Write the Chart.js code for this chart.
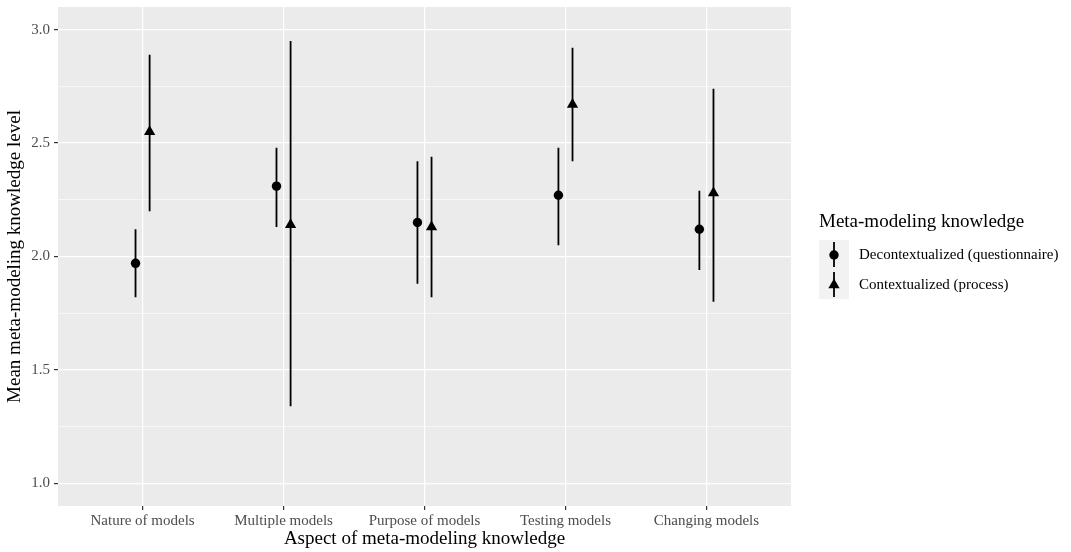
<!DOCTYPE html>
<html>
<head>
<meta charset="utf-8">
<script src="https://cdn.jsdelivr.net/npm/chart.js@4/dist/chart.umd.min.js"></script>
<style>
  body { margin: 0; background: #fff; }
  #wrap { width: 1071px; height: 552px; }
</style>
</head>
<body>
<div id="wrap"><canvas id="plot"></canvas></div>
<script>
// data
const categories = ["Nature of models", "Multiple models", "Purpose of models", "Testing models", "Changing models"];
const decontMean = [1.97, 2.31, 2.15, 2.27, 2.12];
const decontLow  = [1.82, 2.13, 1.88, 2.05, 1.94];
const decontHigh = [2.12, 2.48, 2.42, 2.48, 2.29];
const contMean = [2.55, 2.14, 2.13, 2.67, 2.28];
const contLow  = [2.20, 1.34, 1.82, 2.42, 1.80];
const contHigh = [2.89, 2.95, 2.44, 2.92, 2.74];
const yTicks = [1, 1.25, 1.5, 1.75, 2, 2.25, 2.5, 2.75, 3];

const seriesNames = ["Decontextualized (questionnaire)", "Contextualized (process)"];
const legendTitle = "Meta-modeling knowledge";
const dodge = 0.05;
const serif = "'Liberation Serif', 'Times New Roman', serif";

// points and error bar segments (null breaks the line between bars)
function points(means, shift) {
	return means.map((m, i) => ({ x: i + 1 + shift, y: m }));
}
function bars(low, high, shift) {
	let out = [];
	low.forEach((lo, i) => {
		out.push({ x: i + 1 + shift, y: lo });
		out.push({ x: i + 1 + shift, y: high[i] });
		out.push({ x: i + 1 + shift, y: null });
	});
	return out;
}

const isMajor = v => Math.abs(v * 2 - Math.round(v * 2)) < 1e-6;

//grey panel behind the grid
const panelBg = {
	id: "panelBg",
	beforeDraw(chart) {
		const a = chart.chartArea, c = chart.ctx;
		c.save();
		c.fillStyle = "#EBEBEB";
		c.fillRect(a.left, a.top, a.right - a.left, a.bottom - a.top);
		c.restore();
	}
};

//ggplot style legend on the right
const sideLegend = {
	id: "sideLegend",
	afterDraw(chart) {
		const c = chart.ctx;
		const x0 = chart.chartArea.right + 28, top = 240;
		c.save();
		c.fillStyle = "#000";
		c.textBaseline = "middle";
		c.font = "19px " + serif;
		c.fillText(legendTitle, x0, 222);
		c.fillStyle = "#F2F2F2";
		c.fillRect(x0, top, 30, 59);
		const kx = x0 + 15;
		[0, 1].forEach(k => {
			const cy = top + 15 + k * 30;
			c.strokeStyle = "#000";
			c.lineWidth = 1.8;
			c.beginPath();
			c.moveTo(kx, cy - 13);
			c.lineTo(kx, cy + 12);
			c.stroke();
			c.fillStyle = "#000";
			c.beginPath();
			if (k == 0) {
				c.arc(kx, cy, 4.7, 0, Math.PI * 2);
			} else {
				const r = 6.5;
				c.moveTo(kx, cy - r);
				c.lineTo(kx + r * Math.sin(2 * Math.PI / 3), cy + r / 2);
				c.lineTo(kx - r * Math.sin(2 * Math.PI / 3), cy + r / 2);
				c.closePath();
			}
			c.fill();
			c.font = "15px " + serif;
			c.fillText(seriesNames[k], x0 + 40, cy);
		});
		c.restore();
	}
};

const ctx = document.getElementById("plot").getContext("2d");

new Chart(ctx, {
	type: "scatter",
	data: {
		datasets: [
			{ data: bars(decontLow, decontHigh, -dodge), showLine: true, spanGaps: false, pointRadius: 0, borderColor: "#000", borderWidth: 1.8, order: 2 },
			{ data: bars(contLow, contHigh, dodge), showLine: true, spanGaps: false, pointRadius: 0, borderColor: "#000", borderWidth: 1.8, order: 2 },
			{ label: seriesNames[0], data: points(decontMean, -dodge), pointStyle: "circle", pointRadius: 4.7, backgroundColor: "#000", borderWidth: 0, order: 1 },
			{ label: seriesNames[1], data: points(contMean, dodge), pointStyle: "triangle", pointRadius: 6.5, backgroundColor: "#000", borderWidth: 0, order: 1 }
		]
	},
	options: {
		responsive: true,
		maintainAspectRatio: false,
		animation: false,
		layout: { padding: { top: 7, right: 280, left: 0, bottom: 0 } },
		plugins: { legend: { display: false }, tooltip: { enabled: false } },
		scales: {
			x: {
				type: "linear",
				min: 0.4,
				max: 5.6,
				afterBuildTicks: s => { s.ticks = categories.map((c, i) => ({ value: i + 1 })); },
				afterFit: s => { s.height = 46; },
				border: { display: false },
				grid: { color: "#fff", lineWidth: 1.2, tickColor: "#333", tickLength: 4, drawTicks: true },
				ticks: {
					autoSkip: false, maxRotation: 0, padding: 2, color: "#4D4D4D",
					font: { family: serif, size: 15, lineHeight: 1.2 },
					callback: v => categories[Math.round(v) - 1]
				},
				title: { display: true, text: "Aspect of meta-modeling knowledge", color: "#000", font: { family: serif, size: 19, lineHeight: 1 }, padding: { top: 0, bottom: 3 } }
			},
			y: {
				min: 0.9,
				max: 3.1,
				afterBuildTicks: s => { s.ticks = yTicks.map(v => ({ value: v })); },
				afterFit: s => { s.width = 58; s.paddingTop = 0; s.paddingBottom = 0; },
				border: { display: false },
				grid: {
					color: "#fff",
					lineWidth: c => isMajor(c.tick.value) ? 1.2 : 0.6,
					tickColor: c => isMajor(c.tick.value) ? "#333" : "rgba(0,0,0,0)",
					tickLength: 4
				},
				ticks: {
					autoSkip: false, padding: 4, color: "#4D4D4D",
					font: { family: serif, size: 15 },
					callback: v => isMajor(v) ? v.toFixed(1) : ""
				},
				title: { display: true, text: "Mean meta-modeling knowledge level", color: "#000", font: { family: serif, size: 19, lineHeight: 1 }, padding: { top: 6, bottom: 0 } }
			}
		}
	},
	plugins: [panelBg, sideLegend]
});
</script>
</body>
</html>
